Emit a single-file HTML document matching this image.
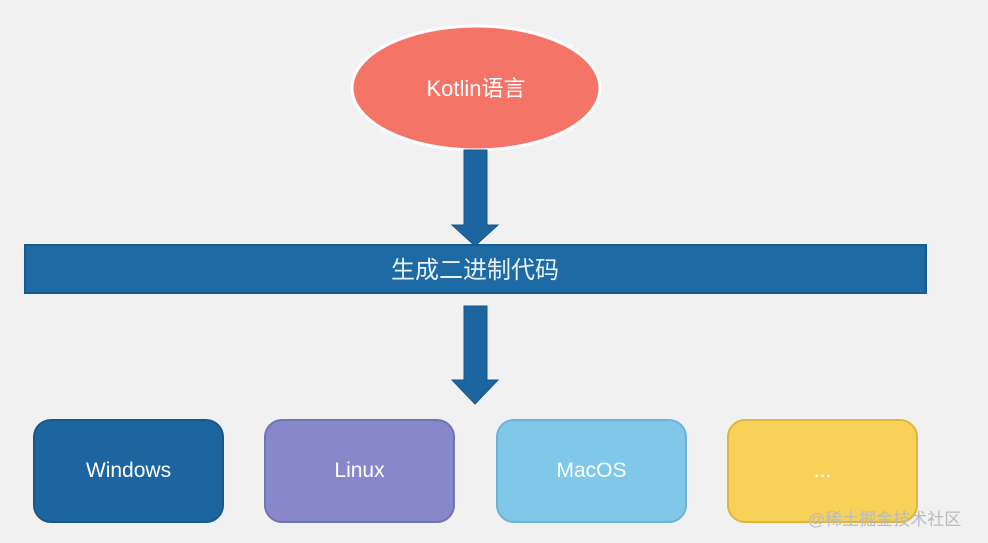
<!DOCTYPE html>
<html><head><meta charset="utf-8"><style>
html,body{margin:0;padding:0;background:#f1f1f1;}
body{width:988px;height:543px;position:relative;overflow:hidden;font-family:"Liberation Sans","Noto Sans CJK SC",sans-serif;}
.box{position:absolute;top:419px;width:191px;height:104px;border-radius:18px;color:#fff;font-size:21px;display:flex;align-items:center;justify-content:center;box-sizing:border-box;}
</style></head><body>
<svg width="988" height="543" style="position:absolute;left:0;top:0">
<ellipse cx="476" cy="88" rx="124" ry="62" fill="#f47468" stroke="#fff" stroke-width="3"/>
<text x="476" y="96" fill="#fff" font-size="22" text-anchor="middle" font-family="Liberation Sans, Noto Sans CJK SC, sans-serif">Kotlin语言</text>
<polygon points="464,150 487,150 487,225 498,225 475,246 452,225 464,225" fill="#1d65a0" stroke="#17578c"/>
<rect x="25" y="245" width="901" height="48" fill="#1d6aa5" stroke="#175a8e" stroke-width="2"/>
<text x="475" y="278" fill="#e8f0f8" font-size="24" text-anchor="middle" font-family="Liberation Sans, Noto Sans CJK SC, sans-serif">生成二进制代码</text>
<polygon points="464,306 487,306 487,380 498,380 475,404 452,380 464,380" fill="#1d65a0" stroke="#17578c"/>
</svg>
<div class="box" style="left:33px;background:#1d65a0;border:2px solid #175888;">Windows</div>
<div class="box" style="left:264px;background:#8788cb;border:2px solid #7273b0;">Linux</div>
<div class="box" style="left:496px;background:#80c8ea;border:2px solid #6fb2d2;">MacOS</div>
<div class="box" style="left:727px;background:#f8d158;border:2px solid #ddb640;">...</div>
<div style="position:absolute;left:808px;top:505px;font-size:17px;color:#bbb;font-family:'Liberation Sans','Noto Sans CJK SC',sans-serif;">@稀土掘金技术社区</div>
</body></html>
